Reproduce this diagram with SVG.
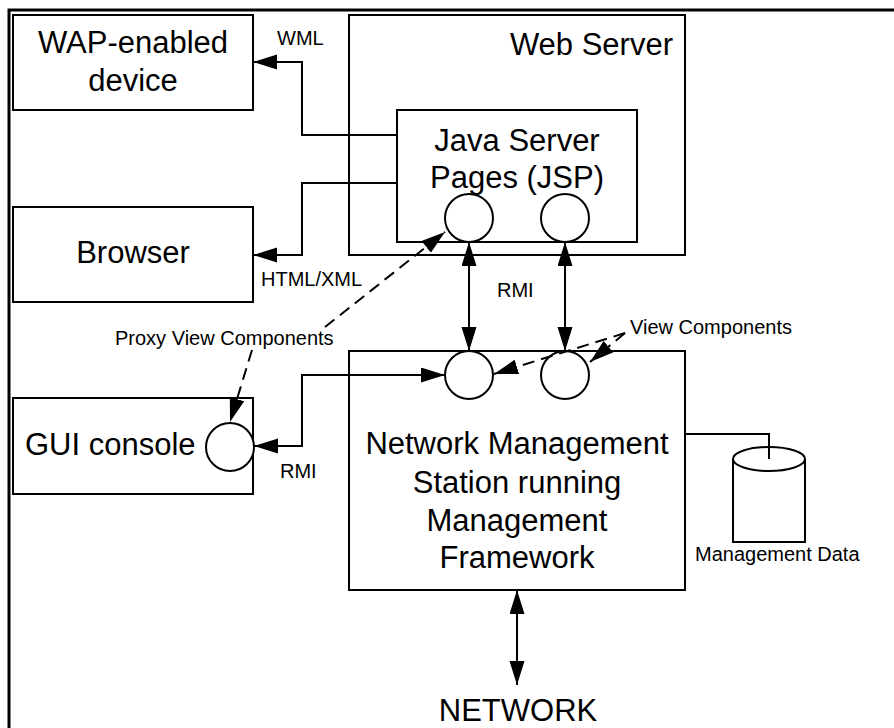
<svg xmlns="http://www.w3.org/2000/svg" width="894" height="728" viewBox="0 0 894 728">
<style>
  .box { fill: none; stroke: #000; stroke-width: 2; }
  .comp { fill: #fff; stroke: #000; stroke-width: 2; }
  .big { font-family: "Liberation Sans", Arial, sans-serif; font-size: 31px; fill: #000; }
  .small { font-family: "Liberation Sans", Arial, sans-serif; font-size: 20px; fill: #000; }
  .mid { text-anchor: middle; }
  .conn { fill: none; stroke: #000; stroke-width: 2; }
  .dash { stroke-dasharray: 12 7; }
</style>
<defs>
  <marker id="arr" markerUnits="userSpaceOnUse" markerWidth="26" markerHeight="16" refX="24" refY="7.5" orient="auto-start-reverse" viewBox="0 0 26 16">
    <path d="M0,0 L24,7.5 L0,15 z" fill="#000"/>
  </marker>
</defs>
<rect x="9" y="10" width="1000" height="1000" fill="none" stroke="#000" stroke-width="3"/>

<g id="wap">
  <rect class="box" x="13" y="15" width="240" height="95"/>
  <text class="big mid" x="133" y="53">WAP-enabled</text>
  <text class="big mid" x="133" y="91">device</text>
</g>
<g id="browser">
  <rect class="box" x="13" y="207" width="240" height="95"/>
  <text class="big mid" x="133" y="263">Browser</text>
</g>
<g id="gui">
  <rect class="box" x="13" y="398" width="240" height="96"/>
  <text class="big" x="25" y="455">GUI console</text>
  <circle class="comp" cx="230" cy="447" r="24"/>
</g>
<g id="webserver">
  <rect class="box" x="349" y="15" width="336" height="240"/>
  <text class="big" x="673" y="55" text-anchor="end">Web Server</text>
</g>
<g id="jsp">
  <rect class="box" x="397" y="110" width="240" height="132"/>
  <text class="big mid" x="517" y="151">Java Server</text>
  <text class="big mid" x="517" y="188">Pages (JSP)</text>
  <circle class="comp" cx="469" cy="218" r="24"/>
  <circle class="comp" cx="565" cy="218" r="24"/>
</g>
<g id="nms">
  <rect class="box" x="349" y="351" width="336" height="239"/>
  <circle class="comp" cx="469" cy="375" r="24"/>
  <circle class="comp" cx="565" cy="375" r="24"/>
  <text class="big mid" x="517" y="454">Network Management</text>
  <text class="big mid" x="517" y="493">Station running</text>
  <text class="big mid" x="517" y="531">Management</text>
  <text class="big mid" x="517" y="568">Framework</text>
</g>
<g id="db">
  <path d="M733,459 V542 H805 V459" fill="#fff" stroke="#000" stroke-width="2"/>
  <ellipse cx="769" cy="459" rx="36" ry="12" fill="#fff" stroke="#000" stroke-width="2"/>
  <text class="small" x="695" y="561">Management Data</text>
</g>
<g id="network">
  <text class="big mid" x="518" y="721">NETWORK</text>
</g>

<g id="connectors">
  <path class="conn" d="M397,135 H302 V62 H253" marker-end="url(#arr)"/>
  <path class="conn" d="M397,183 H302 V255 H253" marker-end="url(#arr)"/>
  <path class="conn" d="M469,242 V351" marker-start="url(#arr)" marker-end="url(#arr)"/>
  <path class="conn" d="M565,242 V351" marker-start="url(#arr)" marker-end="url(#arr)"/>
  <path class="conn" d="M254,446 H302 V375 H445" marker-start="url(#arr)" marker-end="url(#arr)"/>
  <path class="conn" d="M517,590 V685" marker-start="url(#arr)" marker-end="url(#arr)"/>
  <path class="conn" d="M685,434 H769 V459"/>
  <path class="conn dash" d="M325,327 L445,232" marker-end="url(#arr)"/>
  <path class="conn dash" d="M252,350 L230,422" marker-end="url(#arr)"/>
  <path class="conn dash" d="M625,333 L494,374" marker-end="url(#arr)"/>
  <path class="conn dash" d="M625,333 L590,362" marker-end="url(#arr)"/>
  <text class="small" x="277" y="45">WML</text>
  <text class="small" x="261" y="286">HTML/XML</text>
  <text class="small" x="497" y="297">RMI</text>
  <text class="small" x="280" y="478">RMI</text>
  <text class="small" x="115" y="345">Proxy View Components</text>
  <text class="small" x="630" y="334">View Components</text>
</g>
</svg>
